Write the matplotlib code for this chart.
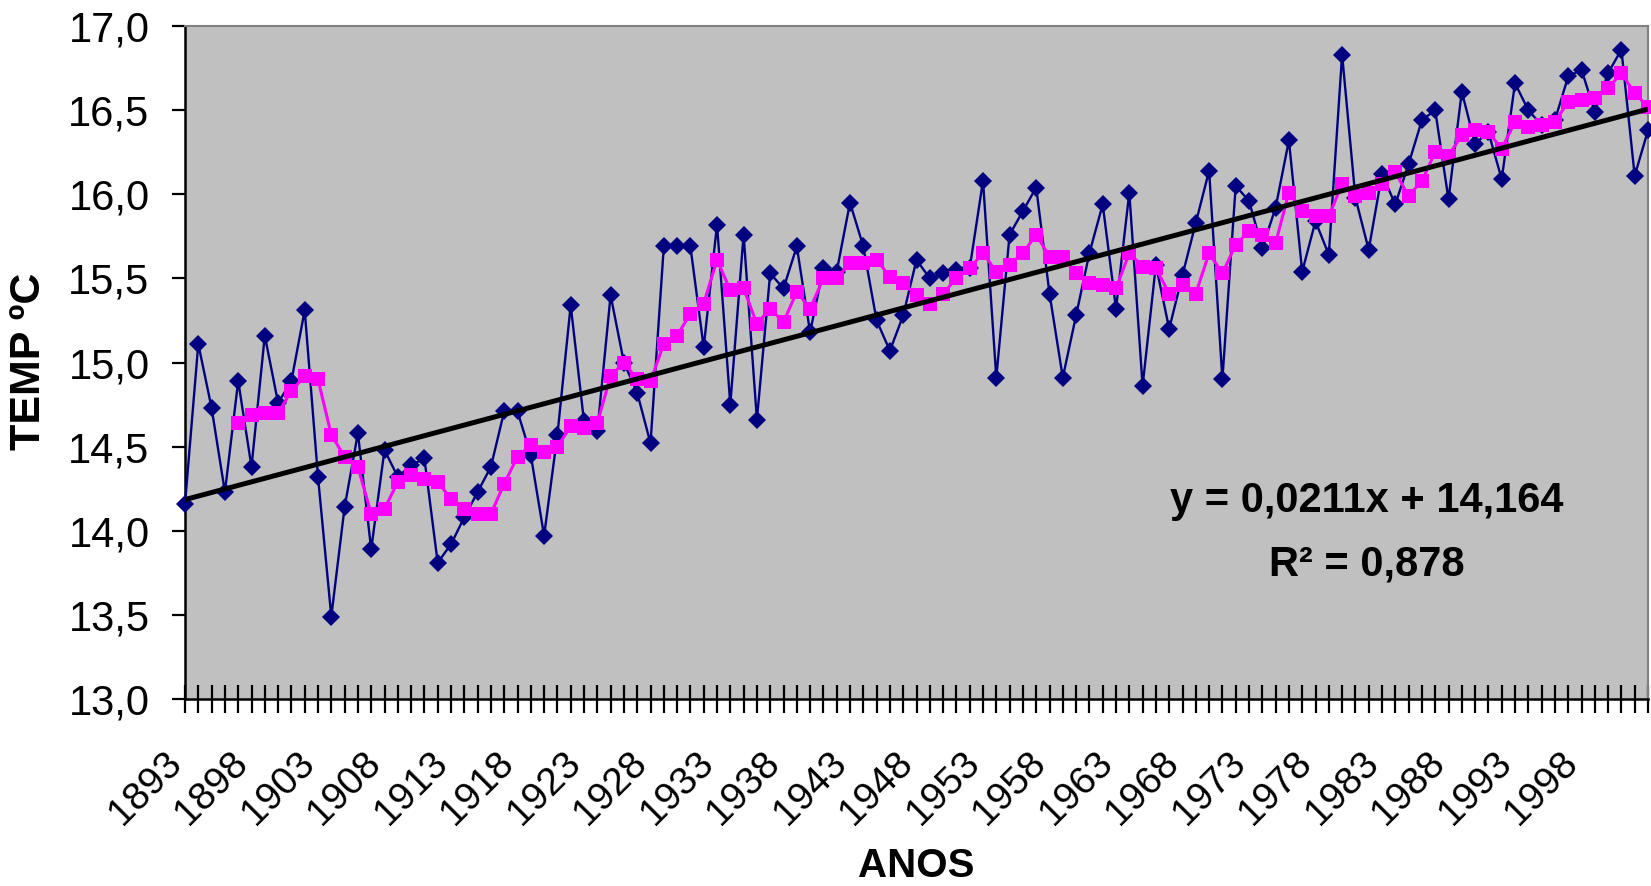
import matplotlib
matplotlib.use("Agg")
import matplotlib.pyplot as plt
import matplotlib.transforms as mtransforms
import numpy as np

# ---------------- data ----------------
years = list(range(1893, 2004))
temp_annual = [
    14.16, 15.11, 14.73, 14.23, 14.89, 14.38, 15.16, 14.76, 14.89, 15.31,  # 1893-1902
    14.32, 13.49, 14.14, 14.58, 13.89, 14.48, 14.32, 14.39, 14.43, 13.81,  # 1903-1912
    13.92, 14.08, 14.23, 14.38, 14.71, 14.71, 14.45, 13.97, 14.57, 15.34,  # 1913-1922
    14.65, 14.59, 15.40, 15.00, 14.82, 14.52, 15.69, 15.69, 15.69, 15.09,  # 1923-1932
    15.82, 14.75, 15.76, 14.66, 15.53, 15.44, 15.69, 15.18, 15.56, 15.54,  # 1933-1942
    15.95, 15.69, 15.25, 15.07, 15.28, 15.61, 15.50, 15.53, 15.55, 15.56,  # 1943-1952
    16.08, 14.91, 15.76, 15.90, 16.04, 15.41, 14.91, 15.28, 15.65, 15.94,  # 1953-1962
    15.32, 16.01, 14.86, 15.58, 15.20, 15.52, 15.83, 16.14, 14.90, 16.05,  # 1963-1972
    15.96, 15.68, 15.92, 16.32, 15.54, 15.84, 15.64, 16.83, 15.98, 15.67,  # 1973-1982
    16.12, 15.94, 16.18, 16.44, 16.50, 15.97, 16.61, 16.30, 16.37, 16.09,  # 1983-1992
    16.66, 16.50, 16.41, 16.44, 16.70, 16.74, 16.49, 16.72, 16.86, 16.11,  # 1993-2002
    16.38,                                                                 # 2003
]

ma_years = list(range(1897, 2004))
temp_ma5 = [
    14.64, 14.69, 14.70, 14.70, 14.83, 14.92, 14.90, 14.57, 14.44, 14.38,  # 1897-1906
    14.10, 14.13, 14.29, 14.33, 14.31, 14.29, 14.19, 14.13, 14.10, 14.10,  # 1907-1916
    14.28, 14.44, 14.51, 14.47, 14.50, 14.62, 14.61, 14.64, 14.92, 15.00,  # 1917-1926
    14.90, 14.89, 15.11, 15.16, 15.29, 15.35, 15.61, 15.43, 15.44, 15.23,  # 1927-1936
    15.32, 15.24, 15.42, 15.32, 15.50, 15.50, 15.59, 15.59, 15.61, 15.51,  # 1937-1946
    15.47, 15.40, 15.35, 15.41, 15.50, 15.56, 15.65, 15.54, 15.58, 15.65,  # 1947-1956
    15.76, 15.63, 15.63, 15.53, 15.47, 15.46, 15.44, 15.65, 15.57, 15.56,  # 1957-1966
    15.41, 15.46, 15.41, 15.65, 15.53, 15.70, 15.78, 15.76, 15.71, 16.01,  # 1967-1976
    15.90, 15.87, 15.87, 16.06, 15.99, 16.01, 16.06, 16.13, 15.99, 16.08,  # 1977-1986
    16.25, 16.23, 16.35, 16.38, 16.37, 16.27, 16.43, 16.40, 16.41, 16.43,  # 1987-1996
    16.55, 16.56, 16.57, 16.63, 16.72, 16.60, 16.52,                       # 1997-2003
]

trend_slope = 0.0211
trend_intercept = 14.164

y_ticks = [13.0, 13.5, 14.0, 14.5, 15.0, 15.5, 16.0, 16.5, 17.0]
x_label_years = list(range(1893, 1999, 5))

eq_text = "y = 0,0211x + 14,164"
r2_text = "R² = 0,878"
x_title = "ANOS"
y_title = "TEMP ºC"

# ---------------- figure ----------------
plt.rcParams['font.family'] = ['Liberation Sans', 'DejaVu Sans']

W, H = 1651, 886
fig = plt.figure(figsize=(W / 100, H / 100), dpi=100)
left, right, top, bottom = 185, 1648, 26, 699
ax = fig.add_axes([left / W, 1 - bottom / H, (right - left) / W, (bottom - top) / H])
ax.set_facecolor('#C0C0C0')

ax.plot(years, temp_annual, color='#000080', lw=1.7, marker='D', ms=8.8,
        markeredgewidth=0, zorder=3, clip_on=False)
ax.plot(ma_years, temp_ma5, color='#FF00FF', lw=2.2, marker='s', ms=10.5,
        markeredgewidth=0, zorder=4, clip_on=False)

idx = np.arange(1, len(years) + 1)
trend_vals = trend_slope * idx + trend_intercept
ax.plot(years, trend_vals, color='black', lw=3.6, zorder=5, solid_capstyle='round')

ax.set_xlim(years[0], years[-1])
ax.set_ylim(y_ticks[0], y_ticks[-1])

ax.set_yticks(y_ticks)
ax.set_yticklabels([f"{v:.1f}".replace('.', ',') for v in y_ticks], fontsize=30)
ax.set_xticks(years)
ax.set_xticklabels([str(y) if y in x_label_years else "" for y in years],
                   fontsize=28, rotation=45, ha='right', va='top',
                   rotation_mode='anchor')

ax.tick_params(axis='y', direction='out', length=9.5, width=1.6, pad=16, color='black')
ax.tick_params(axis='x', direction='inout', length=20, width=1.6, pad=23, color='black')

offset = mtransforms.ScaledTranslation(-0.22, 0, fig.dpi_scale_trans)
for lab in ax.get_xticklabels():
    lab.set_transform(lab.get_transform() + offset)

for s in ['left', 'bottom']:
    ax.spines[s].set_color('black')
    ax.spines[s].set_linewidth(1.8)
for s in ['top', 'right']:
    ax.spines[s].set_color('#808080')
    ax.spines[s].set_linewidth(1.5)

fig.text(916 / W, 1 - 866 / H, x_title, fontsize=29, fontweight='bold',
         ha='center', va='center')
fig.text(29.5 / W, 1 - 361 / H, y_title, fontsize=31, fontweight='bold',
         ha='center', va='center', rotation=90)

fig.text(1367 / W, 1 - 501 / H, eq_text, fontsize=30, fontweight='bold',
         ha='center', va='center')
fig.text(1367 / W, 1 - 565 / H, r2_text, fontsize=30, fontweight='bold',
         ha='center', va='center')

fig.savefig("out.png", dpi=100, facecolor='white')
